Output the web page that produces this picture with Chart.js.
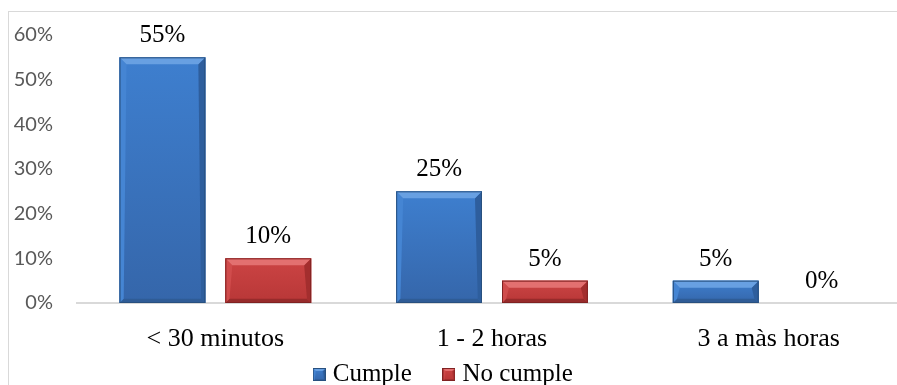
<!DOCTYPE html>
<html>
<head>
<meta charset="utf-8">
<script src="https://cdn.jsdelivr.net/npm/chart.js@4.4.0/dist/chart.umd.min.js"></script>
<style>
  html, body { margin: 0; padding: 0; background: #fff; overflow: hidden; width: 897px; height: 385px; }
  #frame { position: absolute; left: 8px; top: 11px; width: 1000px; height: 500px;
           border-left: 1px solid #d9d9d9; border-top: 1px solid #d9d9d9; }
  #wrap { position: absolute; left: 0; top: 0; width: 920px; height: 434px; }
</style>
</head>
<body>
<div id="frame"></div>
<div id="wrap"><canvas id="c" width="920" height="434"></canvas></div>
<script>
const categories = ['< 30 minutos', '1 - 2 horas', '3 a màs horas'];
const cumple = [55, 25, 5];
const noCumple = [10, 5, 0];
const seriesNames = ['Cumple', 'No cumple'];
const yMax = 60;
const yStep = 10;

const SERIF = '"Liberation Serif", "Times New Roman", serif';
const SANS = 'Lato, "Open Sans", sans-serif';

// bevelled bar palettes
const palettes = [
  { base: '#3a77c6', face: ['#3e7fcf', '#3566aa'], top: '#68a0e2', left: '#4585d3',
    right: '#2e5e9d', bottom: '#2f5c96', edge: '#28507f' },
  { base: '#c43d3d', face: ['#cc4444', '#b83737'], top: '#e37070', left: '#d04c4c',
    right: '#a32e2e', bottom: '#972b2b', edge: '#802222' }
];

function poly(ctx, pts, color) {
  ctx.beginPath();
  ctx.moveTo(pts[0][0], pts[0][1]);
  for (let i = 1; i < pts.length; i++) ctx.lineTo(pts[i][0], pts[i][1]);
  ctx.closePath();
  ctx.fillStyle = color;
  ctx.fill();
}

function bevel(ctx, l, t, r, b, size, c) {
  const w = r - l, h = b - t;
  if (w <= 0 || h <= 0.5) return;
  const s = Math.min(size, h / 2, w / 2);
  const sb = Math.min(size * 0.6, h / 2);
  const g = ctx.createLinearGradient(0, t, 0, b);
  g.addColorStop(0, c.face[0]);
  g.addColorStop(1, c.face[1]);
  ctx.fillStyle = g;
  ctx.fillRect(l, t, w, h);
  poly(ctx, [[l, b], [r, b], [r - sb, b - sb], [l + sb, b - sb]], c.bottom);
  poly(ctx, [[l, t], [l + s, t + s], [l + sb, b - sb], [l, b]], c.left);
  poly(ctx, [[r, t], [r - s, t + s], [r - sb, b - sb], [r, b]], c.right);
  poly(ctx, [[l, t], [r, t], [r - s, t + s], [l + s, t + s]], c.top);
  ctx.strokeStyle = c.edge;
  ctx.lineWidth = 1;
  ctx.strokeRect(l + 0.5, t + 0.5, w - 1, h - 1);
}

function legendSwatch(c) {
  const cv = document.createElement('canvas');
  cv.width = 13; cv.height = 13;
  bevel(cv.getContext('2d'), 0, 0, 13, 13, 3, c);
  return cv;
}

const bevelPlugin = {
  id: 'bevelBars',
  afterDatasetsDraw(chart) {
    const ctx = chart.ctx;
    ctx.save();
    chart.data.datasets.forEach((ds, di) => {
      const meta = chart.getDatasetMeta(di);
      meta.data.forEach(bar => {
        const p = bar.getProps(['x', 'y', 'base', 'width'], true);
        bevel(ctx, p.x - p.width / 2, Math.min(p.y, p.base), p.x + p.width / 2,
              Math.max(p.y, p.base), 7, palettes[di]);
      });
    });
    ctx.restore();
  }
};

const valueLabels = {
  id: 'valueLabels',
  afterDatasetsDraw(chart) {
    const ctx = chart.ctx;
    ctx.save();
    ctx.font = '25px ' + SERIF;
    ctx.fillStyle = '#000';
    ctx.textAlign = 'center';
    ctx.textBaseline = 'alphabetic';
    chart.data.datasets.forEach((ds, di) => {
      const meta = chart.getDatasetMeta(di);
      meta.data.forEach((bar, i) => {
        const p = bar.getProps(['x', 'y'], true);
        ctx.fillText(ds.data[i] + '%', p.x, p.y - 15);
      });
    });
    ctx.restore();
  }
};

// legend placement: small horizontal nudge, fixed text line
const LEGEND_SHIFT_X = -8;
const LEGEND_TOP = 326;
const legendPlace = {
  id: 'legendPlace',
  afterLayout(chart) {
    const lg = chart.legend;
    if (!lg) return;
    const h = lg.bottom - lg.top;
    lg.left += LEGEND_SHIFT_X;
    lg.right += LEGEND_SHIFT_X;
    lg.top = LEGEND_TOP;
    lg.bottom = LEGEND_TOP + h;
  }
};

new Chart(document.getElementById('c'), {
  type: 'bar',
  data: {
    labels: categories,
    datasets: [
      { label: seriesNames[0], data: cumple, backgroundColor: palettes[0].base,
        pointStyle: legendSwatch(palettes[0]) },
      { label: seriesNames[1], data: noCumple, backgroundColor: palettes[1].base,
        pointStyle: legendSwatch(palettes[1]) }
    ]
  },
  options: {
    responsive: false,
    animation: false,
    categoryPercentage: 0.765,
    barPercentage: 0.811,
    layout: { padding: { left: 0, right: 13, top: 35, bottom: 0 } },
    plugins: {
      tooltip: { enabled: false },
      legend: {
        position: 'bottom',
        labels: {
          usePointStyle: true,
          boxWidth: 2,
          padding: 36,
          color: '#000',
          font: { family: SERIF, size: 25 }
        }
      }
    },
    scales: {
      x: {
        grid: { display: false },
        border: { display: true, color: '#d9d9d9', width: 2 },
        ticks: { color: '#000', font: { family: SERIF, size: 26 }, padding: 13, maxRotation: 0 },
        afterFit(scale) { scale.height = 60; }
      },
      y: {
        min: 0,
        max: yMax,
        grid: { display: false },
        border: { display: false },
        ticks: {
          stepSize: yStep,
          color: '#595959',
          padding: 16,
          font: { family: SANS, size: 20 },
          callback: v => v + '%'
        },
        afterFit(scale) { scale.width = 77; }
      }
    }
  },
  plugins: [bevelPlugin, valueLabels, legendPlace]
});
</script>
</body>
</html>
